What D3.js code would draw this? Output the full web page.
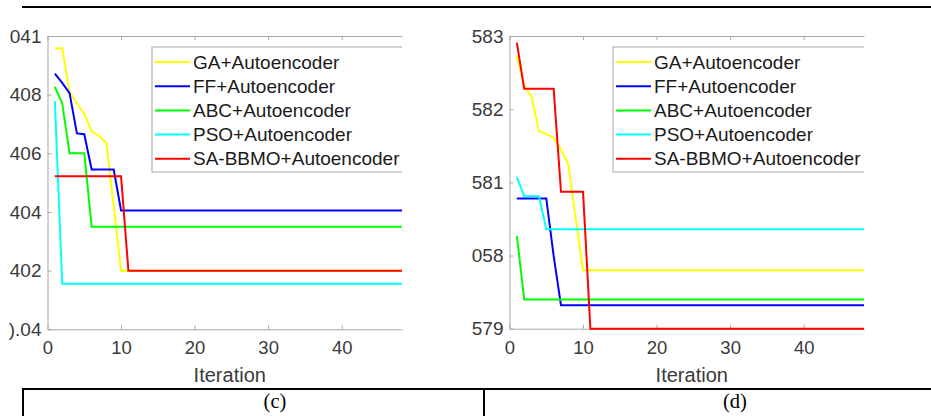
<!DOCTYPE html>
<html>
<head>
<meta charset="utf-8">
<script src="https://cdn.jsdelivr.net/npm/d3@7"></script>
<style>
  body { margin: 0; background: #fff; }
  svg { display: block; }
  .tick text { font-family: "Liberation Sans", Arial, sans-serif; fill: #3a3a3a; }
  .axis path, .axis line { stroke: #a8a8a8; }
</style>
</head>
<body>
<svg id="chart" width="931" height="416"></svg>
<script>
// series names and colours (legend order)
var seriesNames = ["GA+Autoencoder", "FF+Autoencoder", "ABC+Autoencoder", "PSO+Autoencoder", "SA-BBMO+Autoencoder"];
var seriesColors = ["#ffff00", "#0000ff", "#00ff00", "#00ffff", "#ff0000"];

// iterations (values after 12 stay flat up to 50)
var iterations = [1, 2, 3, 4, 5, 6, 7, 8, 9, 10, 11, 12, 50];

// panel (c)
var gaC   = [409.58, 409.58, 408.1, 407.7, 407.35, 406.75, 406.6, 406.35, 404.2, 402.0, 402.0, 402.0, 402.0];
var ffC   = [408.72, 408.4, 408.05, 406.68, 406.65, 405.45, 405.45, 405.45, 405.45, 404.05, 404.05, 404.05, 404.05];
var abcC  = [408.27, 407.7, 406.0, 406.0, 406.0, 403.5, 403.5, 403.5, 403.5, 403.5, 403.5, 403.5, 403.5];
var psoC  = [407.78, 401.55, 401.55, 401.55, 401.55, 401.55, 401.55, 401.55, 401.55, 401.55, 401.55, 401.55, 401.55];
var sabC  = [405.22, 405.22, 405.22, 405.22, 405.22, 405.22, 405.22, 405.22, 405.22, 405.22, 402.0, 402.0, 402.0];
var yTicksC = [400, 402, 404, 406, 408, 410];
var yLabelsC = [").04", "402", "404", "406", "408", "041"];

// panel (d)
var gaD   = [582.73, 582.32, 582.17, 581.7, 581.66, 581.61, 581.45, 581.25, 580.5, 579.8, 579.8, 579.8, 579.8];
var ffD   = [580.78, 580.78, 580.78, 580.78, 580.78, 580.0, 579.32, 579.32, 579.32, 579.32, 579.32, 579.32, 579.32];
var abcD  = [580.27, 579.4, 579.4, 579.4, 579.4, 579.4, 579.4, 579.4, 579.4, 579.4, 579.4, 579.4, 579.4];
var psoD  = [581.07, 580.81, 580.81, 580.81, 580.36, 580.36, 580.36, 580.36, 580.36, 580.36, 580.36, 580.36, 580.36];
var sabD  = [582.91, 582.28, 582.28, 582.28, 582.28, 582.28, 580.87, 580.87, 580.87, 580.87, 579.0, 579.0, 579.0];
var yTicksD = [579, 580, 581, 582, 583];
var yLabelsD = ["579", "058", "581", "582", "583"];

var xTicks = [0, 10, 20, 30, 40];

var svg = d3.select("#chart");

function drawPanel(opt) {
    var x = d3.scaleLinear().domain([0, 48.2]).range([opt.left, opt.right]);
    var y = d3.scaleLinear().domain(opt.yDomain).range([opt.bottom, opt.top]);
    var g = svg.append("g");

    var clipId = "clip-" + opt.id;
    svg.append("clipPath").attr("id", clipId)
        .append("rect")
        .attr("x", opt.left - 10).attr("y", opt.top - 10)
        .attr("width", opt.right - opt.left + 10).attr("height", opt.bottom - opt.top + 20);

    // axes (inward ticks, matlab style)
    g.append("g").attr("class", "axis")
        .attr("transform", "translate(0," + opt.bottom + ")")
        .call(d3.axisBottom(x).tickValues(xTicks).tickSize(-4).tickSizeOuter(0).tickPadding(12))
        .call(function(s){ s.selectAll("text").style("font-size", "18.5px"); });
    g.append("g").attr("class", "axis")
        .attr("transform", "translate(0," + opt.top + ")")
        .call(d3.axisTop(x).tickValues(xTicks).tickSize(-4).tickSizeOuter(0).tickFormat(""));
    g.append("g").attr("class", "axis")
        .attr("transform", "translate(" + opt.left + ",0)")
        .call(d3.axisLeft(y).tickValues(opt.yTicks).tickSize(-4).tickSizeOuter(0).tickPadding(6)
            .tickFormat(function(d, i){ return opt.yLabels[i]; }))
        .call(function(s){ s.selectAll("text").style("font-size", "19px"); });
    g.selectAll(".axis path").attr("stroke-width", 1);

    // lines
    var line = d3.line()
        .x(function(d){ return x(d[0]); })
        .y(function(d){ return y(d[1]); });
    var lg = g.append("g").attr("clip-path", "url(#" + clipId + ")");
    opt.series.forEach(function(vals, k){
        var pts = iterations.map(function(it, j){ return [it, vals[j]]; });
        lg.append("path")
            .datum(pts)
            .attr("d", line)
            .attr("fill", "none")
            .attr("stroke", seriesColors[k])
            .attr("stroke-width", 2);
    });

    // legend (cut at the right edge like the picture)
    var leg = g.append("g").attr("clip-path", "url(#" + clipId + ")");
    leg.append("rect")
        .attr("x", opt.legX).attr("y", 47)
        .attr("width", 400).attr("height", 125)
        .attr("fill", "#fff").attr("stroke", "#a8a8a8");
    seriesNames.forEach(function(name, k){
        var ly = 62 + k * 24.2;
        leg.append("line")
            .attr("x1", opt.legX + 3).attr("x2", opt.legX + 38)
            .attr("y1", ly).attr("y2", ly)
            .attr("stroke", seriesColors[k]).attr("stroke-width", 2);
        leg.append("text")
            .attr("x", opt.legX + 41).attr("y", ly)
            .attr("dy", "0.35em")
            .style("font-family", "'Liberation Sans', Arial, sans-serif")
            .style("font-size", "19px")
            .style("fill", "#1a1a1a")
            .text(name);
    });

    g.append("text")
        .attr("x", (opt.left + opt.right) / 2 + 5)
        .attr("y", 382)
        .attr("text-anchor", "middle")
        .style("font-family", "'Liberation Sans', Arial, sans-serif")
        .style("font-size", "20px")
        .style("fill", "#3a3a3a")
        .text("Iteration");

    g.append("text")
        .attr("x", opt.capX)
        .attr("y", 408)
        .attr("text-anchor", "middle")
        .style("font-family", "'Liberation Serif', 'Times New Roman', serif")
        .style("font-size", "20.5px")
        .style("fill", "#000")
        .text(opt.caption);
}

drawPanel({
    id: "c", left: 47.5, right: 402, top: 36, bottom: 329.3,
    yDomain: [400, 410], yTicks: yTicksC, yLabels: yLabelsC,
    series: [gaC, ffC, abcC, psoC, sabC], legX: 152, capX: 275, caption: "(c)"
});
drawPanel({
    id: "d", left: 509.5, right: 864, top: 36, bottom: 328.7,
    yDomain: [579, 583], yTicks: yTicksD, yLabels: yLabelsD,
    series: [gaD, ffD, abcD, psoD, sabD], legX: 613, capX: 735, caption: "(d)"
});

// table rules around the figure
var rules = svg.append("g").attr("stroke", "#000").attr("stroke-width", 2);
rules.append("line").attr("x1", 22).attr("x2", 931).attr("y1", 7).attr("y2", 7);
rules.append("line").attr("x1", 22).attr("x2", 931).attr("y1", 389).attr("y2", 389);
rules.append("line").attr("x1", 23).attr("x2", 23).attr("y1", 389).attr("y2", 416);
rules.append("line").attr("x1", 484).attr("x2", 484).attr("y1", 389).attr("y2", 416);
</script>
</body>
</html>
